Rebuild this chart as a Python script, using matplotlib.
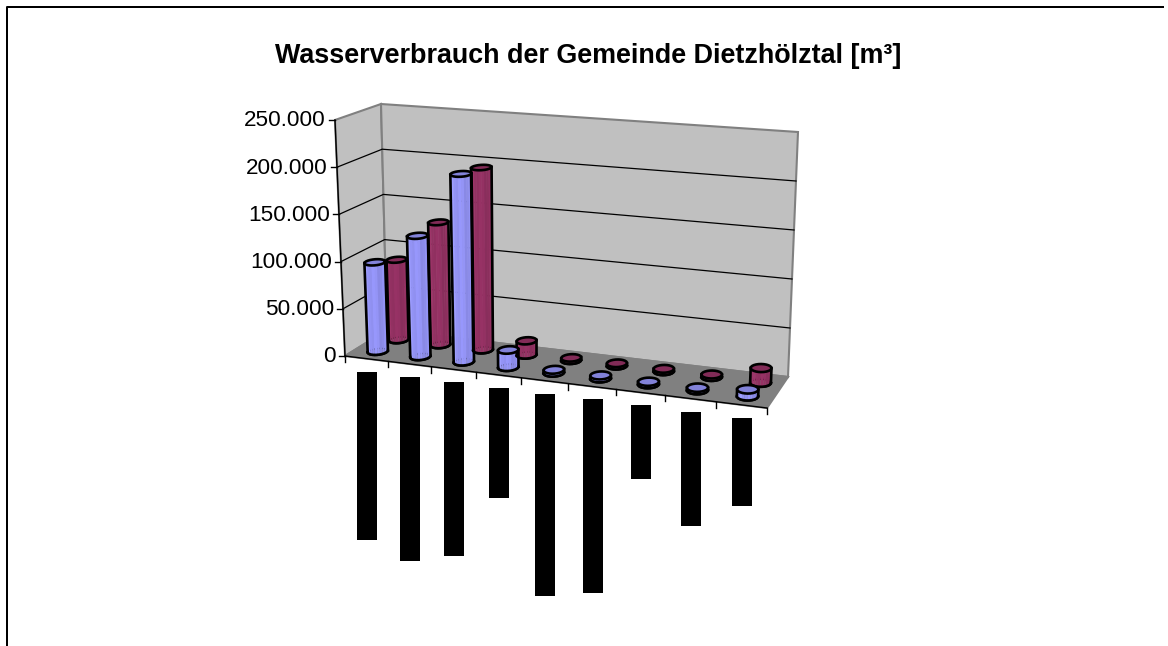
import numpy as np
import matplotlib
matplotlib.use('Agg')
import matplotlib.pyplot as plt
from matplotlib.patches import Polygon, Rectangle

title = 'Wasserverbrauch der Gemeinde Dietzhölztal [m³]'
y_ticks = [0, 50000, 100000, 150000, 200000, 250000]
y_tick_labels = ['0', '50.000', '100.000', '150.000', '200.000', '250.000']

# values, m3
blue_values = [95000, 128000, 198000, 18000, 3000, 3000, 2500, 2500, 7000]
red_values = [87000, 132000, 195000, 15000, 2500, 2500, 2500, 2500, 15000]
# the blacked out category labels, length in px
label_lengths = [168, 184, 174, 110, 202, 194, 74, 114, 88]

BLUE = '#9999ff'
RED = '#993366'
y_max = y_ticks[-1]
n_cat = len(blue_values)


def homography(pts):
    # maps unit square (u, v) to the four given points
    a = []
    b = []
    for (u, v), (x, y) in zip([(0, 0), (1, 0), (1, 1), (0, 1)], pts):
        a.append([u, v, 1, 0, 0, 0, -u * x, -v * x])
        a.append([0, 0, 0, u, v, 1, -u * y, -v * y])
        b += [x, y]
    h = np.linalg.solve(np.array(a, float), np.array(b, float))
    return np.append(h, 1).reshape(3, 3)


floor_h = homography([(345, 356), (767, 408), (788, 377), (387, 330)])
# height vector of the four floor corners, pixels for the full value range
rise = {(0, 0): (-10, -236), (1, 0): (10, -248), (1, 1): (10, -245), (0, 1): (-6, -226)}


def project(u, v, value=0):
    # category position, depth, value -> figure pixels
    u2 = u - 0.007 * np.sin(np.pi * u)
    p = floor_h @ np.array([u2, v, 1.0])
    p = p[:2] / p[2]
    up = ((1 - u) * (1 - v) * np.array(rise[(0, 0)]) + u * (1 - v) * np.array(rise[(1, 0)])
          + u * v * np.array(rise[(1, 1)]) + (1 - u) * v * np.array(rise[(0, 1)]))
    return p + up * value / y_max


def shade(color, k):
    c = np.array(matplotlib.colors.to_rgb(color))
    return tuple(np.clip(c * k, 0, 1))


def cylinder(ax, u, v, value, color):
    ang = np.linspace(0, 2 * np.pi, 25)[:-1]
    ru, rv = 0.0225, 0.13
    base = np.array([project(u + ru * np.cos(a), v + rv * np.sin(a), 0) for a in ang])
    top = np.array([project(u + ru * np.cos(a), v + rv * np.sin(a), value) for a in ang])
    # side facets, lighter towards the left
    for i in range(len(ang)):
        j = (i + 1) % len(ang)
        k = 0.97 + 0.04 * np.sin(i * 1.7) - 0.05 * np.cos(ang[i])
        ax.add_patch(Polygon([base[i], base[j], top[j], top[i]], closed=True,
                             fc=shade(color, k), ec='none', zorder=5))
    # black outline around the body
    left_t, right_t = top[np.argmin(top[:, 0])], top[np.argmax(top[:, 0])]
    left_b, right_b = base[np.argmin(base[:, 0])], base[np.argmax(base[:, 0])]
    ax.plot([left_b[0], left_t[0]], [left_b[1], left_t[1]], color='k', lw=1.9, zorder=6)
    ax.plot([right_b[0], right_t[0]], [right_b[1], right_t[1]], color='k', lw=1.9, zorder=6)
    ax.add_patch(Polygon(base, closed=True, fill=False, ec='k', lw=1.9, zorder=4.5))
    front = base[base[:, 1] >= np.median(base[:, 1])]
    front = front[np.argsort(front[:, 0])]
    ax.plot(front[:, 0], front[:, 1], color='k', lw=1.9, zorder=6)
    ax.add_patch(Polygon(top, closed=True, fc=shade(color, 0.85), ec='k', lw=1.9, zorder=7))


fig = plt.figure(figsize=(11.68, 6.46), dpi=100)
ax = fig.add_axes([0, 0, 1, 1])
ax.set_xlim(0, 1168)
ax.set_ylim(646, 0)
ax.axis('off')

# outer chart border
ax.plot([6.5, 6.5, 1163], [646, 6.5, 6.5], color='k', lw=1.44)

ax.text(588.5, 56, title, fontsize=19.4, fontweight='bold', family='Liberation Sans',
        ha='center', va='center')

# walls and floor
walls = [
    ([project(0, 0), project(0, 1), project(0, 1, y_max), project(0, 0, y_max)], '#c0c0c0'),
    ([project(0, 1), project(1, 1), project(1, 1, y_max), project(0, 1, y_max)], '#c0c0c0'),
    ([project(0, 0), project(1, 0), project(1, 1), project(0, 1)], '#808080'),
]
for pts, col in walls:
    ax.add_patch(Polygon(pts, closed=True, fc=col, ec='#808080', lw=1.5, zorder=1))

# gridlines on both walls
for val in y_ticks[1:-1]:
    a, b, c = project(0, 0, val), project(0, 1, val), project(1, 1, val)
    ax.plot([a[0], b[0], c[0]], [a[1], b[1], c[1]], color='k', lw=0.9, zorder=2)

# value axis
a, b = project(0, 0), project(0, 0, y_max)
ax.plot([a[0], b[0]], [a[1], b[1]], color='k', lw=1, zorder=3)
for val, lab in zip(y_ticks, y_tick_labels):
    p = project(0, 0, val)
    ax.plot([p[0] - 6, p[0]], [p[1], p[1]], color='k', lw=1, zorder=3)
    ax.text(p[0] - 9, p[1] + 1, lab, fontsize=16.2, family='Liberation Sans',
            ha='right', va='center')

# category axis
a, b = project(0, 0), project(1, 0)
ax.plot([a[0], b[0]], [a[1], b[1]], color='k', lw=1, zorder=3)
for i in range(n_cat + 1):
    p = project(i / n_cat, 0)
    ax.plot([p[0], p[0]], [p[1], p[1] + 6], color='k', lw=1, zorder=3)

# columns, back row first
for i, val in enumerate(red_values):
    cylinder(ax, (i + 0.56) / n_cat, 0.72, val, RED)
for i, val in enumerate(blue_values):
    cylinder(ax, (i + 0.5) / n_cat, 0.27, val, BLUE)

# category labels hidden behind black boxes
for i, length in enumerate(label_lengths):
    p = project((i + 0.5) / n_cat, 0)
    ax.add_patch(Rectangle((round(p[0] - 9.5), round(p[1] + 13)), 20, length, fc='k', ec='none', zorder=4))

fig.savefig('out.png', dpi=100)
